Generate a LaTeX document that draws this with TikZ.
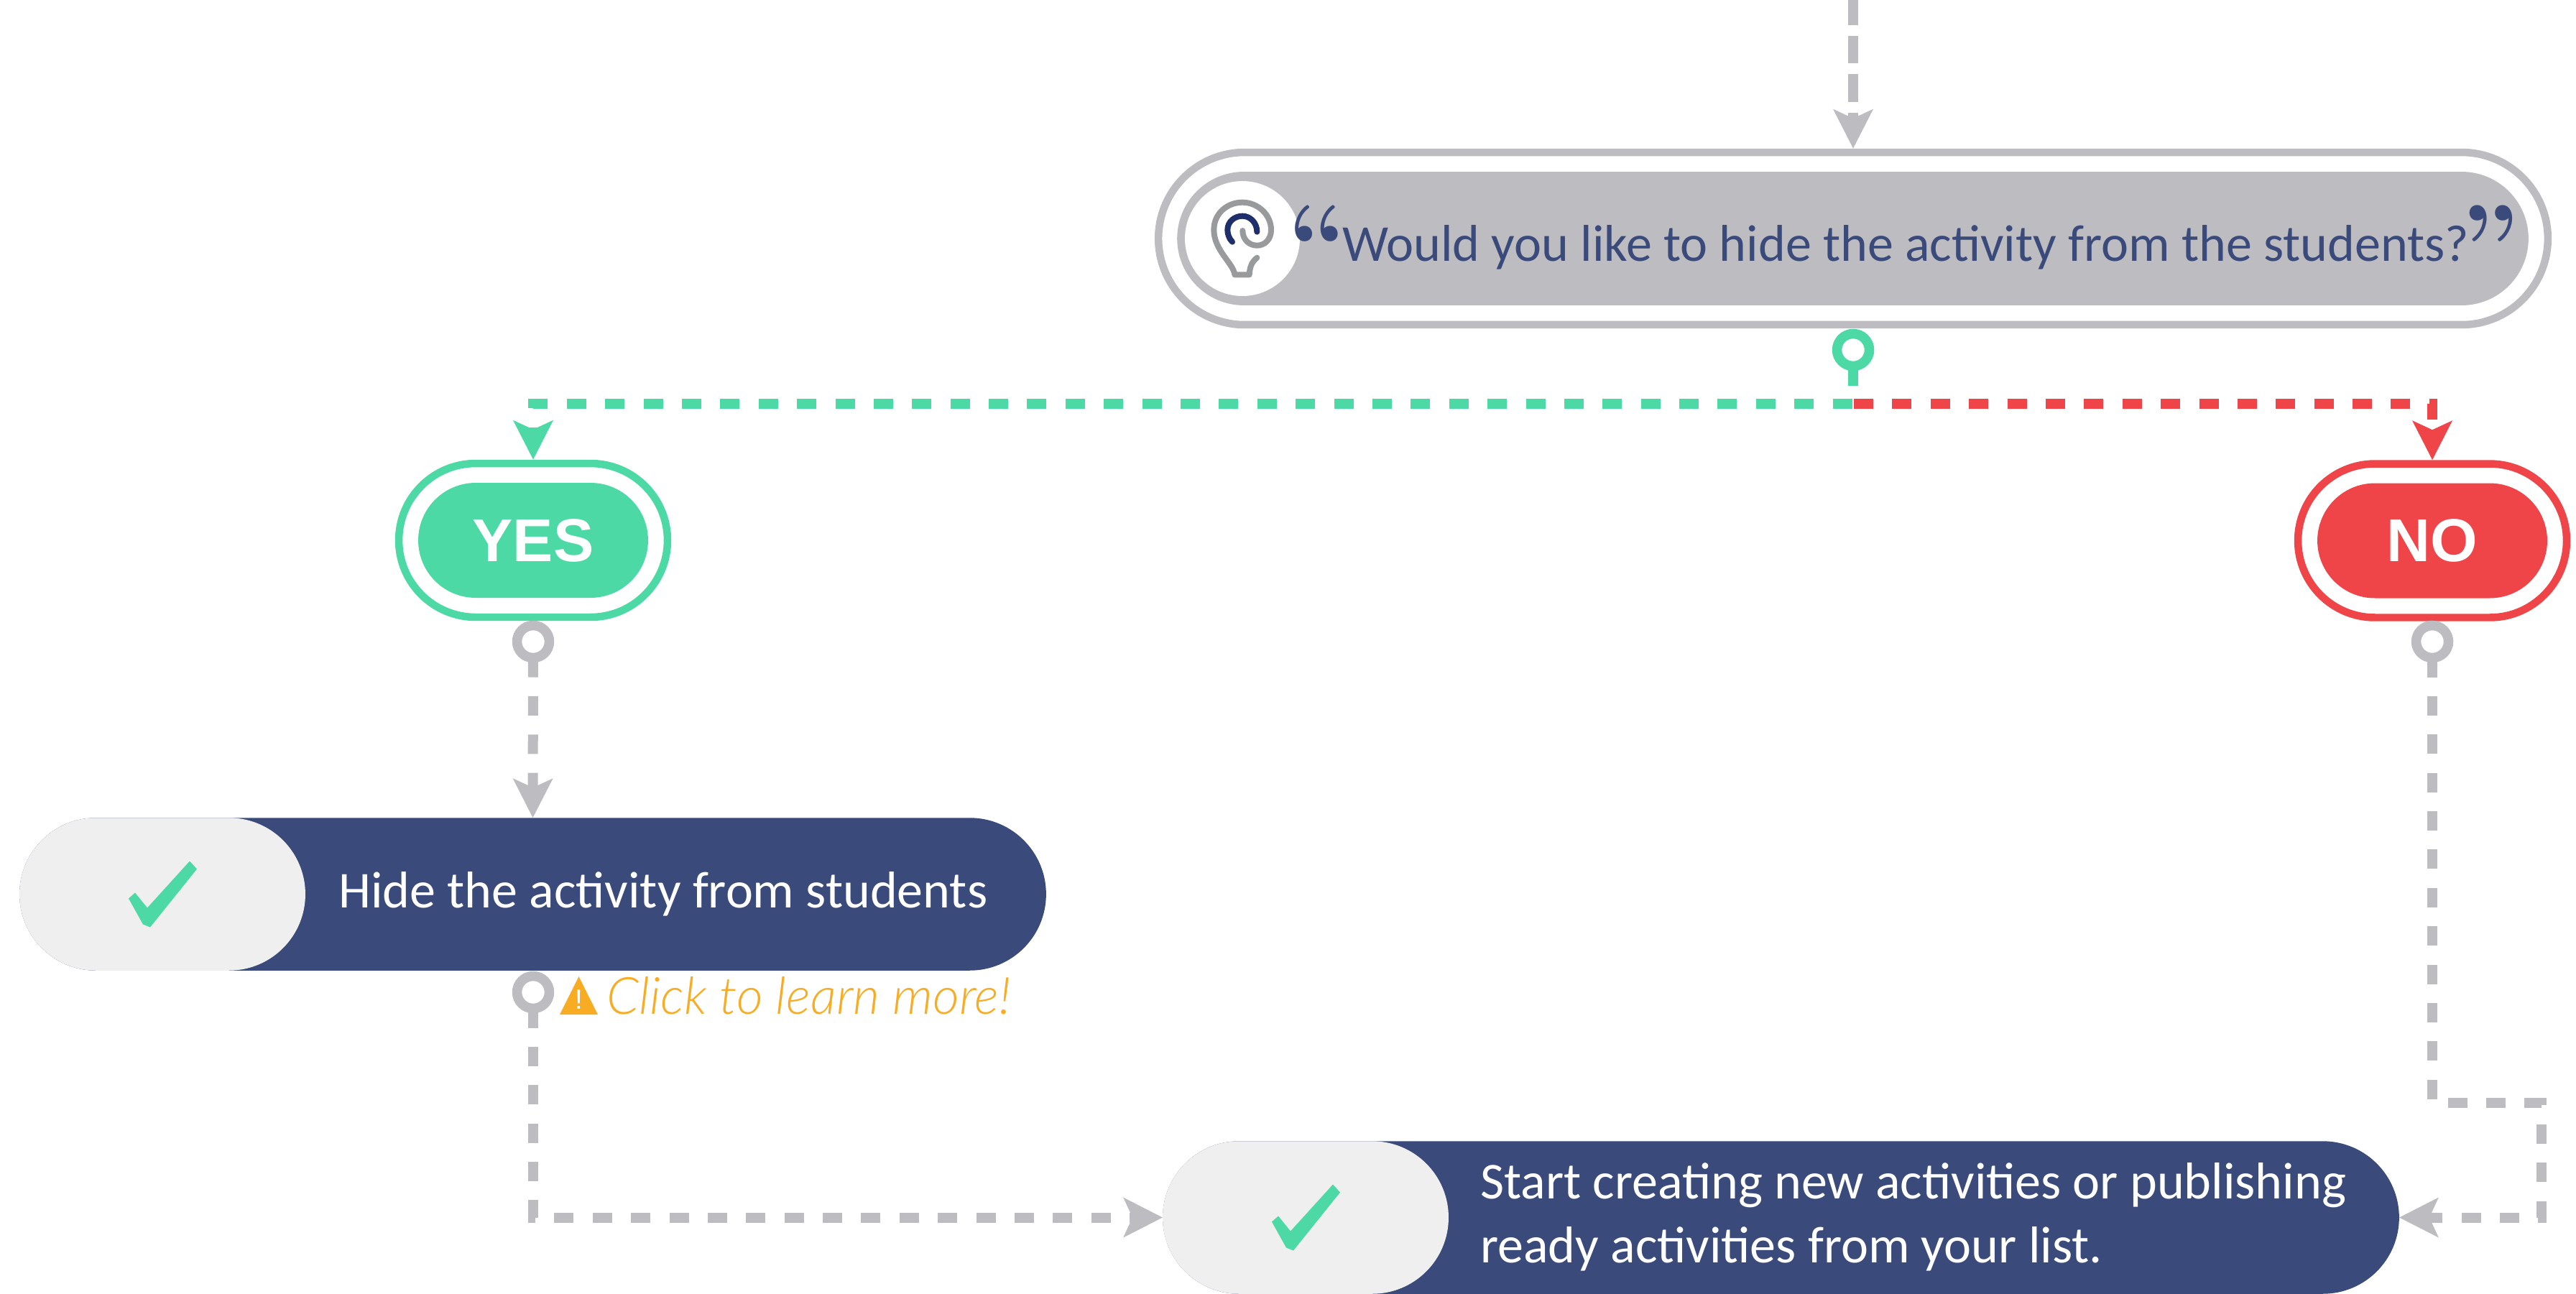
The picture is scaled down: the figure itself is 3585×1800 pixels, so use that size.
\documentclass[tikz,border=0pt]{standalone}
\usepackage{fontspec}
\usepackage{color,xcolor}
\usetikzlibrary{arrows.meta,shapes.misc}
\setmainfont{Carlito}
\newfontfamily\answerfont{Liberation Sans}
\newfontfamily\learnfont{Lato}[UprightFont=* Light,ItalicFont=* Light Italic]
\newfontfamily\quotefont{Latin Modern Roman}
\definecolor{mygray}{HTML}{BDBCC1}
\definecolor{mygreen}{HTML}{4CD9A6}
\definecolor{myred}{HTML}{F04548}
\definecolor{mynavy}{HTML}{3A4A7B}
\definecolor{mypale}{HTML}{EFEFEF}
\definecolor{myorange}{HTML}{F8AC23}
\definecolor{bulbgray}{HTML}{999A9C}
\definecolor{bulbnavy}{HTML}{1F2F6B}
\tikzset{
    framepill/.style={rounded rectangle,draw=#1,line width=.21cm,inner sep=0pt,minimum width=7.48cm,minimum height=4.28cm},
    answer/.style={rounded rectangle,fill=#1,inner sep=0pt,minimum width=6.4cm,minimum height=3.2cm,text=white,
        font=\answerfont\bfseries\fontsize{48}{58}\selectfont},
    bar/.style={rounded rectangle,fill=mynavy,inner sep=0pt,outer sep=0pt,minimum height=4.25cm},
    tickpill/.style={rounded rectangle,fill=mypale,inner sep=0pt,outer sep=0pt,minimum width=7.96cm,minimum height=4.25cm},
    dot/.style={circle,draw=#1,line width=.27cm,fill=white,inner sep=0pt,outer sep=0pt,minimum size=.9cm},
    flow/.style={draw=#1,line width=.28cm,dash pattern=on .54cm off .528cm,
        -{Stealth[length=1.08cm,width=1.08cm,inset=.24cm]}},
    bartext/.style={anchor=base west,inner sep=0pt,font=\fontsize{41}{50.6}\selectfont},
    quotemark/.style={text=mynavy,inner sep=0pt,font=\quotefont\bfseries\fontsize{85}{85}\selectfont},
    checkmark/.pic={
        \fill[mygreen] (-47,6) -- (-38,-2) -- (-21,19) -- (38,-46) -- (48,-35) -- (-17,46) -- (-27,42) -- cycle;
    }
}
\begin{document}
\begin{tikzpicture}[x=.02cm,y=-.02cm]
    \useasboundingbox (0,0) rectangle (3585,1800);

    % question
    \node[rounded rectangle,draw=mygray,line width=.21cm,inner sep=0pt,minimum width=38.68cm,minimum height=4.8cm] (questionframe) at (2579,332) {};
    \node[rounded rectangle,fill=mygray,inner sep=0pt,outer sep=0pt,minimum width=37.62cm,minimum height=3.72cm] (question) at (2578.5,332) {};
    \node[circle,fill=white,inner sep=0pt,outer sep=0pt,minimum size=3.2cm] (bulb) at (1729,332) {};
    \node[bartext,text=mynavy] (questiontext) at (1868,363) {Would you like to hide the activity from the students?};
    \node[quotemark] (openquote) at (1834,338) {“};
    \node[quotemark] (closequote) at (3466,338) {”};

    % bulb
    \begin{scope}[shift={(1660,260)},x=.00667cm,y=-.00667cm,line width=.16cm,line cap=round]
        \draw[bulbgray,line join=round] (268,296) .. controls (245,315) and (238,335) .. (236,367) -- (175,367)
            .. controls (170,320) and (88,265) .. (88,180) .. controls (88,110) and (145,65) .. (207,65)
            .. controls (270,65) and (327,115) .. (327,180) .. controls (327,220) and (300,245) .. (268,245)
            .. controls (235,245) and (208,220) .. (208,183);
        \draw[bulbnavy] (165,230) .. controls (150,215) and (145,195) .. (145,180)
            .. controls (145,145) and (175,122) .. (207,122) .. controls (240,122) and (268,150) .. (268,188);
    \end{scope}

    % answers
    \node[framepill=mygreen] (yesframe) at (742,752) {};
    \node[answer=mygreen] (yes) at (742,752) {YES};
    \node[framepill=myred] (noframe) at (3385,752.5) {};
    \node[answer=myred] (no) at (3385,752.5) {NO};

    % steps
    \node[bar,minimum width=28.58cm] (hide) at (741.5,1244.5) {};
    \node[tickpill] (hidetick) at (226,1244.5) {};
    \pic at (hidetick) {checkmark};
    \node[bartext,text=white] (hidetext) at (471,1263) {Hide the activity from students};
    \node[bar,minimum width=34.42cm] (done) at (2478.5,1694.5) {};
    \node[tickpill] (donetick) at (1817,1694.5) {};
    \pic at (donetick) {checkmark};
    \node[bartext,text=white] (donetext) at (2060,1668) {Start creating new activities or publishing};
    \node[bartext,text=white] (donetexttwo) at (2060,1757) {ready activities from your list.};

    % warning
    \fill[myorange] (805.5,1359) -- (832,1412) -- (779,1412) -- cycle;
    \node[anchor=base,inner sep=0pt,text=white,font=\answerfont\fontsize{22}{22}\selectfont] (warn) at (805.5,1404) {!};
    \node[anchor=base west,inner sep=0pt,text=myorange,font=\learnfont\itshape\fontsize{40.7}{46}\selectfont] (learn) at (844,1411) {Click to learn more!};

    % dots
    \node[dot=mygreen] (questiondot) at (2579,487) {};
    \node[dot=mygray] (yesdot) at (742,893) {};
    \node[dot=mygray] (nodot) at (3385,893) {};
    \node[dot=mygray] (hidedot) at (742,1381) {};

    % connectors
    \coordinate (top) at (2579,0);
    \coordinate (split) at (2579,561.5);
    \coordinate (redstart) at (2580,561.5);
    \coordinate (bendtop) at (3536.5,1534.5);
    \coordinate (bendlow) at (3536.5,1694.5);
    \draw[flow=mygray,dash pattern=on .77cm off .298cm,dash phase=.07cm] (top) -- (questionframe.north);
    \draw[flow=mygreen] (questiondot.south) -- (split) -| (yesframe.north);
    \draw[flow=myred] (redstart) -| (noframe.north);
    \draw[flow=mygray] (yesdot.south) -- (hide.north);
    \draw[flow=mygray] (hidedot.south) |- (done.west);
    \draw[flow=mygray] (nodot.south) |- (bendtop) -- (bendlow) -- (done.east);
\end{tikzpicture}
\end{document}
